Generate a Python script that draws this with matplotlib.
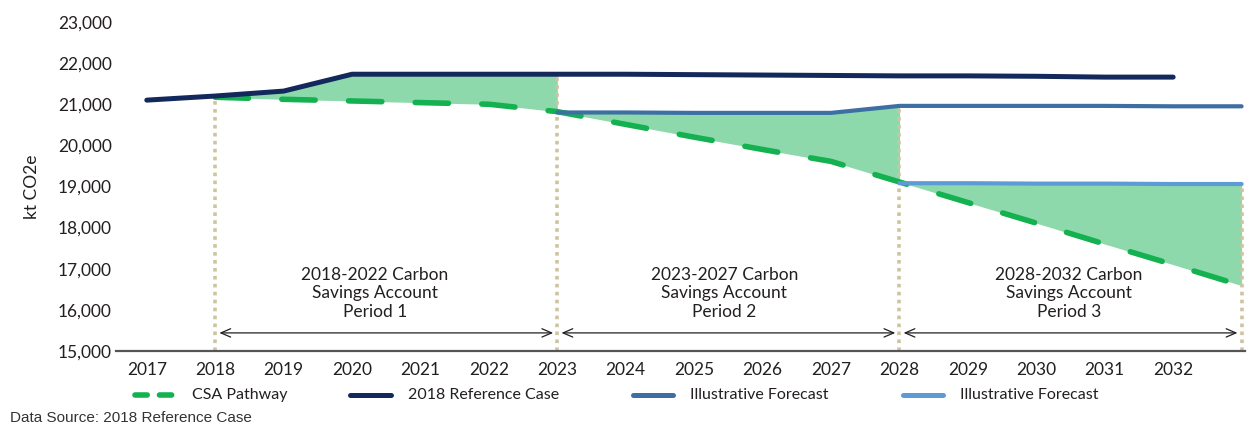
import matplotlib
matplotlib.use("Agg")
import matplotlib.pyplot as plt
from matplotlib.lines import Line2D

# ---- data ----
years_ref = [2017, 2018, 2019, 2020, 2021, 2022, 2023, 2024, 2025, 2026, 2027, 2028, 2029, 2030, 2031, 2032]
ref_case = [21100, 21200, 21320, 21730, 21730, 21730, 21730, 21730, 21720, 21710, 21700, 21690, 21690, 21680, 21660, 21660]

years_csa = [2018, 2019, 2020, 2021, 2022, 2023, 2024, 2025, 2026, 2027, 2028, 2029, 2030, 2031, 2032, 2033]
csa_path = [21170, 21120, 21080, 21040, 21000, 20820, 20510, 20200, 19900, 19610, 19110, 18610, 18110, 17600, 17100, 16590]

years_f1 = [2023, 2024, 2025, 2026, 2027, 2028, 2029, 2030, 2031, 2032, 2033]
forecast1 = [20800, 20800, 20790, 20790, 20790, 20960, 20960, 20960, 20960, 20950, 20950]

years_f2 = [2028, 2029, 2030, 2031, 2032, 2033]
forecast2 = [19080, 19080, 19070, 19070, 19060, 19060]

tick_years = list(range(2017, 2033))
yticks = [15000, 16000, 17000, 18000, 19000, 20000, 21000, 22000, 23000]
period_bounds = [2018, 2023, 2028, 2033]
period_labels = ["2018-2022 Carbon\nSavings Account\nPeriod 1",
                 "2023-2027 Carbon\nSavings Account\nPeriod 2",
                 "2028-2032 Carbon\nSavings Account\nPeriod 3"]
legend_labels = ["CSA Pathway", "2018 Reference Case", "Illustrative Forecast", "Illustrative Forecast"]

# ---- style ----
NAVY = "#13295b"
MID = "#3d6fa3"
LIGHT = "#5d9bd6"
GREEN = "#13b14f"
FILL = "#8dd9ac"
DOT = "#cfc4a0"
TXT = "#231f20"
FONT = "Lato"

plt.rcParams['font.family'] = [FONT, 'DejaVu Sans']

fig = plt.figure(figsize=(12.48, 4.25), dpi=100)
ax = fig.add_axes([116/1248, 1 - 351/425, (1245 - 116)/1248, (351 - 22)/425])

def lookup(xs, ys, x):
    return ys[xs.index(x)]

# fills
def fill_between_series(xs_top, ys_top, x0, x1):
    xs = [x for x in xs_top if x0 <= x <= x1]
    top = [lookup(xs_top, ys_top, x) for x in xs]
    bot = [lookup(years_csa, csa_path, x) for x in xs]
    ax.fill_between(xs, bot, top, color=FILL, lw=0, zorder=1)

fill_between_series(years_ref, ref_case, 2018, 2023)
fill_between_series(years_f1, forecast1, 2023, 2028)
fill_between_series(years_f2, forecast2, 2028, 2033)

# vertical dotted lines
tops = [lookup(years_ref, ref_case, 2018) - 20,
        lookup(years_ref, ref_case, 2023),
        lookup(years_f1, forecast1, 2028),
        lookup(years_f2, forecast2, 2033)]
for xb, tp in zip(period_bounds, tops):
    ax.plot([xb, xb], [15000, tp], color=DOT, lw=2.6, linestyle=(0, (1, 1.2)),
            solid_capstyle='butt', dash_capstyle='butt', zorder=2)

# lines
ax.plot(years_csa, csa_path, color=GREEN, lw=4.0, dashes=(6, 6),
        dash_capstyle='round', zorder=3)
ax.plot(years_ref, ref_case, color=NAVY, lw=3.6, solid_capstyle='round', zorder=4)
ax.plot(years_f1, forecast1, color=MID, lw=3.0, solid_capstyle='round', zorder=4)
ax.plot(years_f2, forecast2, color=LIGHT, lw=3.0, solid_capstyle='round', zorder=4)

# arrows
arrow_y = 15440
for a, b in zip(period_bounds[:-1], period_bounds[1:]):
    ax.annotate("", xy=(a + 0.06, arrow_y), xytext=(b - 0.06, arrow_y),
                arrowprops=dict(arrowstyle='<->,head_length=0.7,head_width=0.3',
                                color=TXT, lw=0.9, shrinkA=0, shrinkB=0), zorder=5)

# period text
for xc, lab in zip([2020.33, 2025.44, 2030.48], period_labels):
    ax.text(xc, 16400, lab, ha='center', va='center', fontsize=12.5,
            color=TXT, linespacing=1.2, family=[FONT, 'DejaVu Sans'])

# axes
ax.set_xlim(2016.55, 2033.05)
ax.set_ylim(15000, 23000)
ax.set_xticks(tick_years)
ax.set_xticklabels([str(y) for y in tick_years])
ax.set_yticks(yticks)
ax.set_yticklabels([f"{v:,}" for v in yticks])
ax.tick_params(axis='both', length=0, labelsize=12.5, colors=TXT)
ax.tick_params(axis='x', pad=8)
ax.tick_params(axis='y', pad=3)
for s in ['top', 'right', 'left']:
    ax.spines[s].set_visible(False)
ax.spines['bottom'].set_color('#555555')
ax.spines['bottom'].set_linewidth(1.6)
ax.set_ylabel("kt CO2e", fontsize=12.5, color=TXT)
ax.yaxis.set_label_coords(-0.067, 0.5)

# legend (manual, in figure coordinates)
leg_y = 1 - 395/425
handles = [
    dict(x0=135, x1=176, color=GREEN, lw=4.0, dashes=(2.2, 2.2)),
    dict(x0=350, x1=391, color=NAVY, lw=3.6, dashes=None),
    dict(x0=633, x1=673, color=MID, lw=3.6, dashes=None),
    dict(x0=903, x1=943, color=LIGHT, lw=3.6, dashes=None),
]
text_x = [192, 408, 690, 960]
for h, tx, lab in zip(handles, text_x, legend_labels):
    ln = Line2D([h['x0']/1248, h['x1']/1248], [leg_y, leg_y], transform=fig.transFigure,
                color=h['color'], lw=h['lw'], solid_capstyle='round', dash_capstyle='round')
    if h['dashes']:
        ln.set_dashes(h['dashes'])
    fig.add_artist(ln)
    fig.text(tx/1248, leg_y, lab, ha='left', va='center', fontsize=11.5, color=TXT)

fig.text(10/1248, 1 - 418/425, "Data Source: 2018 Reference Case", ha='left', va='center',
         fontsize=11, color='#333333', family=['Liberation Sans', 'DejaVu Sans'])

fig.savefig("out.png", dpi=100)
